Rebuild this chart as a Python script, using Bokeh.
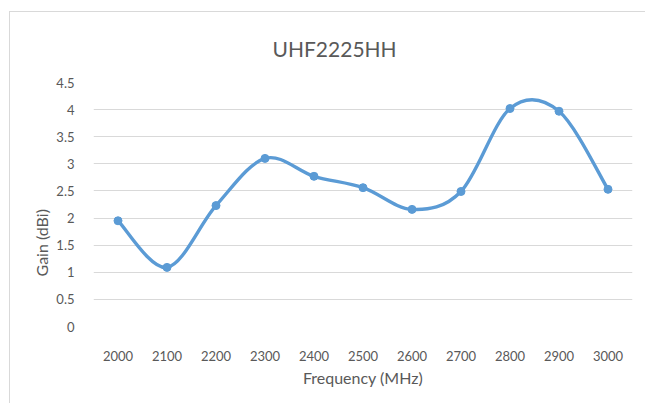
from bokeh.plotting import figure
from bokeh.models import FixedTicker, Range1d, Title, ColumnDataSource
from bokeh.embed import file_html
from bokeh.resources import INLINE

title_text = "UHF2225HH"
x_label = "Frequency (MHz)"
y_label = "Gain (dBi)"
freq = [2000, 2100, 2200, 2300, 2400, 2500, 2600, 2700, 2800, 2900, 3000]
gain = [1.95, 1.09, 2.23, 3.10, 2.77, 2.56, 2.16, 2.49, 4.02, 3.97, 2.53]
y_ticks = [0, 0.5, 1, 1.5, 2, 2.5, 3, 3.5, 4, 4.5]
y_tick_labels = ["0", "0.5", "1", "1.5", "2", "2.5", "3", "3.5", "4", "4.5"]

FONT = "Lato"
TXT = "#595959"
BLUE = "#5b9bd5"
W, H = 636, 392

p = figure(width=W, height=H, output_backend="svg", toolbar_location=None,
           x_range=Range1d(1950, 3050), y_range=Range1d(0, 4.5),
           min_border_left=83, min_border_right=14, min_border_top=70, min_border_bottom=78)
p.outline_line_color = None
p.styles = {"margin-left": "9px", "margin-top": "11px",
            "border-left": "1px solid #d9d9d9", "border-top": "1px solid #d9d9d9"}

# title
p.title.text = title_text
p.title.align = "left"
p.title.offset = 179
p.title.text_font = FONT
p.title.text_font_size = "21px"
p.title.text_font_style = "normal"
p.title.text_color = TXT
p.title.standoff = 43

# grid
p.xgrid.grid_line_color = None
p.ygrid.grid_line_color = "#d9d9d9"
p.ygrid.grid_line_width = 1
p.ygrid.ticker = FixedTicker(ticks=y_ticks)

# axes
p.xaxis.ticker = FixedTicker(ticks=freq)
p.yaxis.ticker = FixedTicker(ticks=y_ticks)
p.yaxis.major_label_overrides = {t: l for t, l in zip(y_ticks, y_tick_labels)}
for ax in (p.xaxis[0], p.yaxis[0]):
    ax.axis_line_color = None
    ax.major_tick_line_color = None
    ax.minor_tick_line_color = None
    ax.major_label_text_font = FONT
    ax.major_label_text_font_size = "13px"
    ax.major_label_text_color = TXT
p.xaxis.major_label_standoff = 18
p.yaxis.major_label_standoff = 13

p.xaxis.axis_label = x_label
p.xaxis.axis_label_standoff = 4
p.xaxis.axis_label_text_font = FONT
p.xaxis.axis_label_text_font_size = "16px"
p.xaxis.axis_label_text_font_style = "normal"
p.xaxis.axis_label_text_color = TXT

ylab = Title(text=y_label, align="left", offset=50, text_font=FONT, text_font_size="16px",
             text_font_style="normal", text_color=TXT, standoff=6)
p.add_layout(ylab, "left")

# smooth curve via cubic bezier segments (Excel-like smoothing)
n = len(freq)
x0, y0, x1, y1, cx0, cy0, cx1, cy1 = [], [], [], [], [], [], [], []
for i in range(n - 1):
    pm = i - 1 if i > 0 else i
    pp = i + 2 if i + 2 < n else i + 1
    x0.append(freq[i]); y0.append(gain[i])
    x1.append(freq[i + 1]); y1.append(gain[i + 1])
    cx0.append(freq[i] + (freq[i + 1] - freq[pm]) / 6)
    cy0.append(gain[i] + (gain[i + 1] - gain[pm]) / 6)
    cx1.append(freq[i + 1] - (freq[pp] - freq[i]) / 6)
    cy1.append(gain[i + 1] - (gain[pp] - gain[i]) / 6)
seg = ColumnDataSource(dict(x0=x0, y0=y0, x1=x1, y1=y1, cx0=cx0, cy0=cy0, cx1=cx1, cy1=cy1))
p.bezier(x0="x0", y0="y0", x1="x1", y1="y1", cx0="cx0", cy0="cy0", cx1="cx1", cy1="cy1",
         source=seg, line_color=BLUE, line_width=3.4, line_cap="round")
p.scatter(freq, gain, size=8, marker="circle", fill_color=BLUE, line_color=BLUE)

open("out.html", "w").write(file_html(p, INLINE))
